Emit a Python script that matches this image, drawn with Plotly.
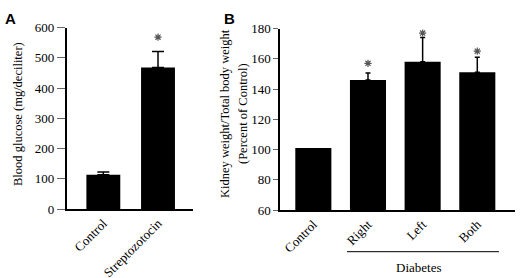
import plotly.graph_objects as go

# Panel A data
cats_a = ["Control", "Streptozotocin"]
vals_a = [113, 468]
err_a = [9, 53]
star_a = [None, 568]

# Panel B data
cats_b = ["Control", "Right", "Left", "Both"]
vals_b = [101, 146, 158, 151]
err_b = [0, 4.5, 16, 10]
star_b = [None, 157, 177, 165]

W, H = 520, 278
def px_x(p): return p / W
def px_y(p): return (H - p) / H

SERIF = "Liberation Serif"
star_marker = dict(symbol="asterisk-open", size=6, color="#555555", line=dict(color="#555555", width=1.2))

fig = go.Figure()
fig.add_trace(go.Bar(x=cats_a, y=vals_a, width=0.62, marker=dict(color="black", line=dict(width=0)),
                     error_y=dict(type="data", array=err_a, symmetric=False, arrayminus=[0]*len(err_a),
                                  color="black", thickness=1.5, width=6),
                     xaxis="x", yaxis="y", showlegend=False))
fig.add_trace(go.Scatter(x=cats_a, y=star_a, mode="markers", marker=star_marker,
                         xaxis="x", yaxis="y", showlegend=False))

# Panel B: bars without error (err == 0) and with error drawn as separate overlaid traces
no_err = [i for i, e in enumerate(err_b) if not e]
has_err = [i for i, e in enumerate(err_b) if e]
fig.add_trace(go.Bar(x=[cats_b[i] for i in no_err], y=[vals_b[i] - 60 for i in no_err], base=60, width=0.66,
                     marker=dict(color="black", line=dict(width=0)),
                     xaxis="x2", yaxis="y2", showlegend=False))
fig.add_trace(go.Bar(x=[cats_b[i] for i in has_err], y=[vals_b[i] - 60 for i in has_err], base=60, width=0.66,
                     marker=dict(color="black", line=dict(width=0)),
                     error_y=dict(type="data", array=[err_b[i] for i in has_err], symmetric=False,
                                  arrayminus=[0] * len(has_err), color="black", thickness=1.5, width=2.5),
                     xaxis="x2", yaxis="y2", showlegend=False))
fig.add_trace(go.Scatter(x=cats_b, y=star_b, mode="markers", marker=star_marker,
                         xaxis="x2", yaxis="y2", showlegend=False))

axis_common = dict(showline=True, linecolor="black", linewidth=1.5, showgrid=False, zeroline=False,
                   automargin=False, tickfont=dict(family=SERIF, size=13, color="black"))

fig.update_layout(
    width=W, height=H, margin=dict(l=0, r=0, t=0, b=0),
    plot_bgcolor="white", paper_bgcolor="white",
    barmode="overlay",
    xaxis=dict(domain=[px_x(66.7), px_x(193)], range=[-0.67, 1.64], anchor="y",
               tickangle=-45, ticks="", categoryorder="array", categoryarray=cats_a, **axis_common),
    yaxis=dict(domain=[px_y(209), px_y(27.5)], range=[0, 600], anchor="x",
               tickvals=[0, 100, 200, 300, 400, 500, 600], ticks="outside", ticklen=8,
               tickcolor="#666", tickwidth=1, **axis_common),
    xaxis2=dict(domain=[px_x(280), px_x(515)], range=[-0.61, 3.69], anchor="y2",
                tickangle=-45, ticks="", categoryorder="array", categoryarray=cats_b, **axis_common),
    yaxis2=dict(domain=[px_y(210), px_y(28.5)], range=[60, 180], anchor="x2",
                tickvals=[60, 80, 100, 120, 140, 160, 180], ticks="outside", ticklen=5,
                tickcolor="#666", tickwidth=1, **axis_common),
)

ann = [
    dict(text="<b>A</b>", x=px_x(3), y=px_y(8), xanchor="left", yanchor="top",
         font=dict(family="Liberation Sans", size=15, color="black")),
    dict(text="<b>B</b>", x=px_x(222), y=px_y(8), xanchor="left", yanchor="top",
         font=dict(family="Liberation Sans", size=15, color="black")),
    dict(text="Blood glucose (mg/deciliter)", x=px_x(18), y=px_y(114), textangle=-90,
         xanchor="center", yanchor="middle", font=dict(family=SERIF, size=12.5, color="black")),
    dict(text="Kidney weight/Total body weight", x=px_x(225), y=px_y(114), textangle=-90,
         xanchor="center", yanchor="middle", font=dict(family=SERIF, size=12.5, color="black")),
    dict(text="(Percent of Control)", x=px_x(243), y=px_y(114), textangle=-90,
         xanchor="center", yanchor="middle", font=dict(family=SERIF, size=12.5, color="black")),
    dict(text="Diabetes", x=px_x(418), y=px_y(267), xanchor="center", yanchor="middle",
         font=dict(family=SERIF, size=13, color="black")),
]
for a in ann:
    a.update(xref="paper", yref="paper", showarrow=False)
fig.update_layout(annotations=ann)

fig.add_shape(type="line", xref="paper", yref="paper", x0=px_x(347), x1=px_x(499),
              y0=px_y(251.7), y1=px_y(251.7), line=dict(color="black", width=1))

fig.write_html("out.html", config={"displayModeBar": False},
               post_script="document.body.style.margin='0';document.body.style.overflow='hidden';")
